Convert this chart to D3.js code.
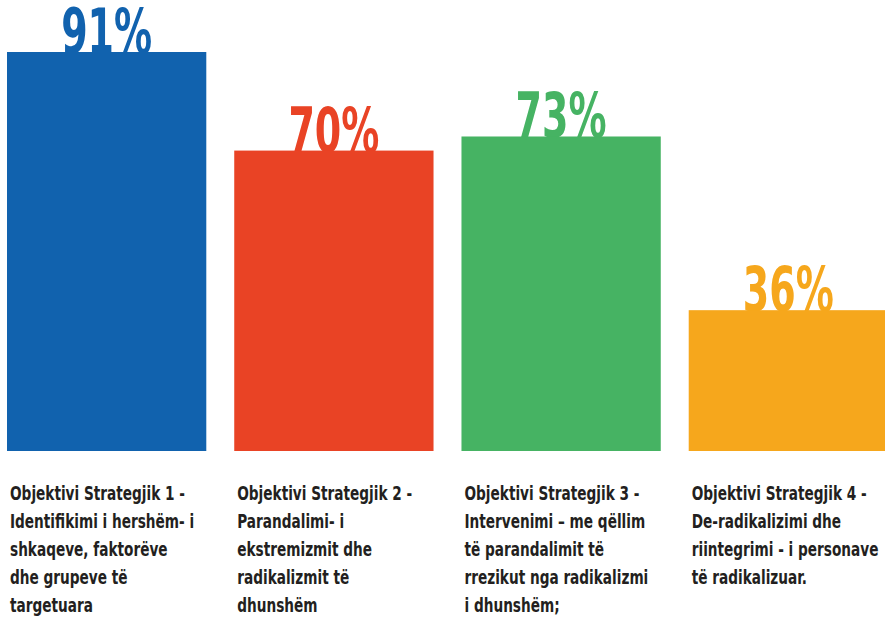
<!DOCTYPE html>
<html>
<head>
<meta charset="utf-8">
<script src="https://cdn.jsdelivr.net/npm/d3@7"></script>
<style>
  body { margin: 0; background: #fff; }
  svg { display: block; }
</style>
</head>
<body>
<div id="chart"></div>
<script>
// data
let categories = ['Objektivi 1', 'Objektivi 2', 'Objektivi 3', 'Objektivi 4']
let values = [91, 70, 73, 36]
let valueLabels = ['91%', '70%', '73%', '36%']
let labelLines = [
  ['Objektivi Strategjik 1 -', 'Identifikimi i hershëm- i', 'shkaqeve, faktorëve', 'dhe grupeve të', 'targetuara'],
  ['Objektivi Strategjik 2 -', 'Parandalimi- i', 'ekstremizmit dhe', 'radikalizmit të', 'dhunshëm'],
  ['Objektivi Strategjik 3 -', 'Intervenimi – me qëllim', 'të parandalimit të', 'rrezikut nga radikalizmi', 'i dhunshëm;'],
  ['Objektivi Strategjik 4 -', 'De-radikalizimi dhe', 'riintegrimi - i personave', 'të radikalizuar.']
]
let colors = ['#1162ae', '#e94325', '#46b363', '#f6a71c']

let width = 885
let height = 617
let baseline = 451

let svg = d3
  .select('#chart')
  .append('svg')
  .attr('width', width)
  .attr('height', height)

let x = d3
  .scaleBand()
  .domain(categories)
  .range([7, 888])
  .paddingInner(0.123)
  .paddingOuter(0)

// the bars in the original are not drawn from zero
let y = d3.scaleLinear().domain([6, 91]).range([baseline, 52])

let font = "'Liberation Sans Narrow', 'DejaVu Sans Condensed', 'Roboto Condensed', sans-serif"

svg
  .append('g')
  .selectAll('.pct')
  .data(values)
  .enter()
  .append('text')
  .attr('class', 'pct')
  .attr('x', (d, i) => x(categories[i]) + x.bandwidth() / 2)
  .attr('y', d => y(d) + 1)
  .attr('text-anchor', 'middle')
  .attr('font-family', font)
  .attr('font-weight', 'bold')
  .attr('font-size', 62)
  .attr('textLength', 91)
  .attr('lengthAdjust', 'spacingAndGlyphs')
  .attr('fill', (d, i) => colors[i])
  .text((d, i) => valueLabels[i])

svg
  .append('g')
  .selectAll('.bar')
  .data(values)
  .enter()
  .append('rect')
  .attr('class', 'bar')
  .attr('x', (d, i) => x(categories[i]))
  .attr('y', d => y(d))
  .attr('width', x.bandwidth())
  .attr('height', d => baseline - y(d))
  .attr('fill', (d, i) => colors[i])

let groups = svg
  .append('g')
  .selectAll('.cat')
  .data(labelLines)
  .enter()
  .append('g')
  .attr('class', 'cat')
  .attr('transform', (d, i) => `translate(${x(categories[i]) + 3},500)`)

let inner = groups.append('g').attr('class', 'inner')

inner
  .selectAll('text')
  .data(d => d)
  .enter()
  .append('text')
  .attr('x', 0)
  .attr('y', (d, i) => i * 28)
  .attr('font-family', font)
  .attr('font-weight', 'bold')
  .attr('font-size', 20)
  .attr('fill', '#231f20')
  .text(d => d)

// squeeze the labels so the first line matches the condensed width
let firstWidth = inner.select('text').node().getComputedTextLength()
let sx = 175 / firstWidth
inner.attr('transform', `scale(${sx},1)`)
</script>
</body>
</html>
